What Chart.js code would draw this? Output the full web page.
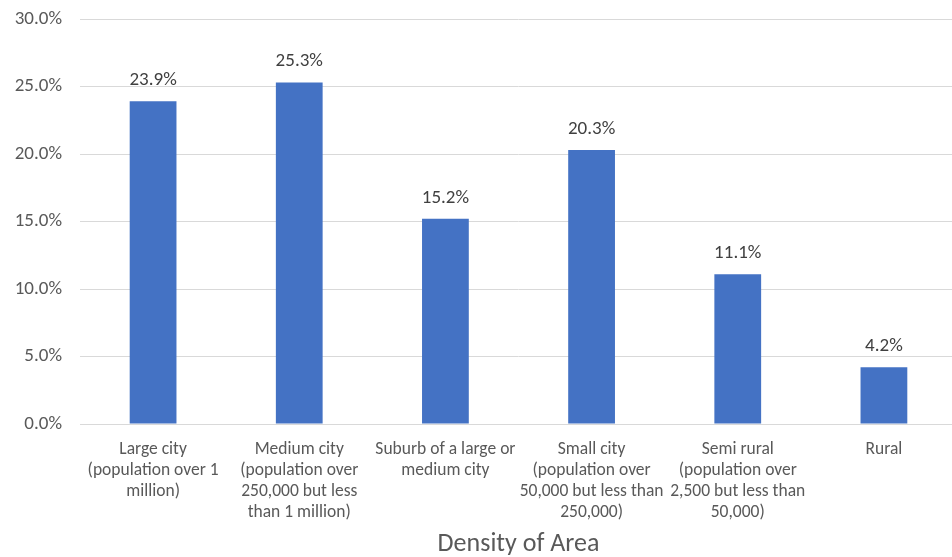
<!DOCTYPE html>
<html>
<head>
<meta charset="utf-8">
<script src="https://cdn.jsdelivr.net/npm/chart.js@4/dist/chart.umd.min.js"></script>
<style>
  html, body { margin: 0; padding: 0; background: #fff; overflow: hidden; }
  #wrap { width: 957px; height: 557px; position: relative; }
</style>
</head>
<body>
<div id="wrap"><canvas id="chart"></canvas></div>
<script>
const categories = [
    ['Large city', '(population over 1', 'million)'],
    ['Medium city', '(population over', '250,000 but less', 'than 1 million)'],
    ['Suburb of a large or', 'medium city'],
    ['Small city', '(population over', '50,000 but less than', '250,000)'],
    ['Semi rural', '(population over', '2,500 but less than', '50,000)'],
    ['Rural']
];
const shares = [23.9, 25.3, 15.2, 20.3, 11.1, 4.2];
const yTicks = [0, 5, 10, 15, 20, 25, 30];
const axisTitle = 'Density of Area';

const fontFamily = 'Carlito, Calibri, Lato, sans-serif';

// draws the value above every bar
const valueLabels = {
    id: 'valueLabels',
    afterDatasetsDraw(chart) {
        const ctx = chart.ctx;
        const meta = chart.getDatasetMeta(0);
        ctx.save();
        ctx.font = '19px ' + fontFamily;
        ctx.fillStyle = '#404040';
        ctx.textAlign = 'center';
        ctx.textBaseline = 'middle';
        meta.data.forEach((bar, i) => {
            ctx.fillText(shares[i].toFixed(1) + '%', bar.x, bar.y - 21);
        });
        ctx.restore();
    }
};

const ctx = document.getElementById('chart').getContext('2d');
window.bar1 = new Chart(ctx, {
    type: 'bar',
    data: {
        labels: categories,
        datasets: [{
            data: shares,
            backgroundColor: '#4472C4',
            borderWidth: 0,
            barPercentage: 0.32,
            categoryPercentage: 1
        }]
    },
    options: {
        responsive: true,
        maintainAspectRatio: false,
        animation: false,
        layout: { padding: { top: 19, left: 0, right: 0, bottom: 0 } },
        plugins: {
            legend: { display: false },
            tooltip: { enabled: false }
        },
        scales: {
            x: {
                grid: { display: false, drawTicks: false },
                border: { display: true, color: '#d9d9d9', width: 1 },
                ticks: {
                    color: '#595959',
                    font: { family: fontFamily, size: 17.5, lineHeight: '21px' },
                    padding: 15,
                    maxRotation: 0,
                    autoSkip: false
                },
                title: {
                    display: true,
                    text: axisTitle,
                    color: '#595959',
                    font: { family: fontFamily, size: 26, lineHeight: 1.0 },
                    padding: { top: 0, bottom: 0 }
                },
                afterFit(scale) {
                    scale.height = 133;
                    scale.paddingLeft = 0;
                    scale.paddingRight = 0;
                }
            },
            y: {
                min: 0,
                max: 30,
                afterBuildTicks(scale) {
                    scale.ticks = yTicks.map(v => ({ value: v }));
                },
                grid: { color: '#d9d9d9', lineWidth: 1, drawTicks: false },
                border: { display: false },
                ticks: {
                    color: '#595959',
                    font: { family: fontFamily, size: 19 },
                    padding: 18,
                    callback: v => v.toFixed(1) + '%'
                },
                afterFit(scale) {
                    scale.width = 80;
                    scale.paddingTop = 0;
                    scale.paddingBottom = 0;
                }
            }
        }
    },
    plugins: [valueLabels]
});
</script>
</body>
</html>
